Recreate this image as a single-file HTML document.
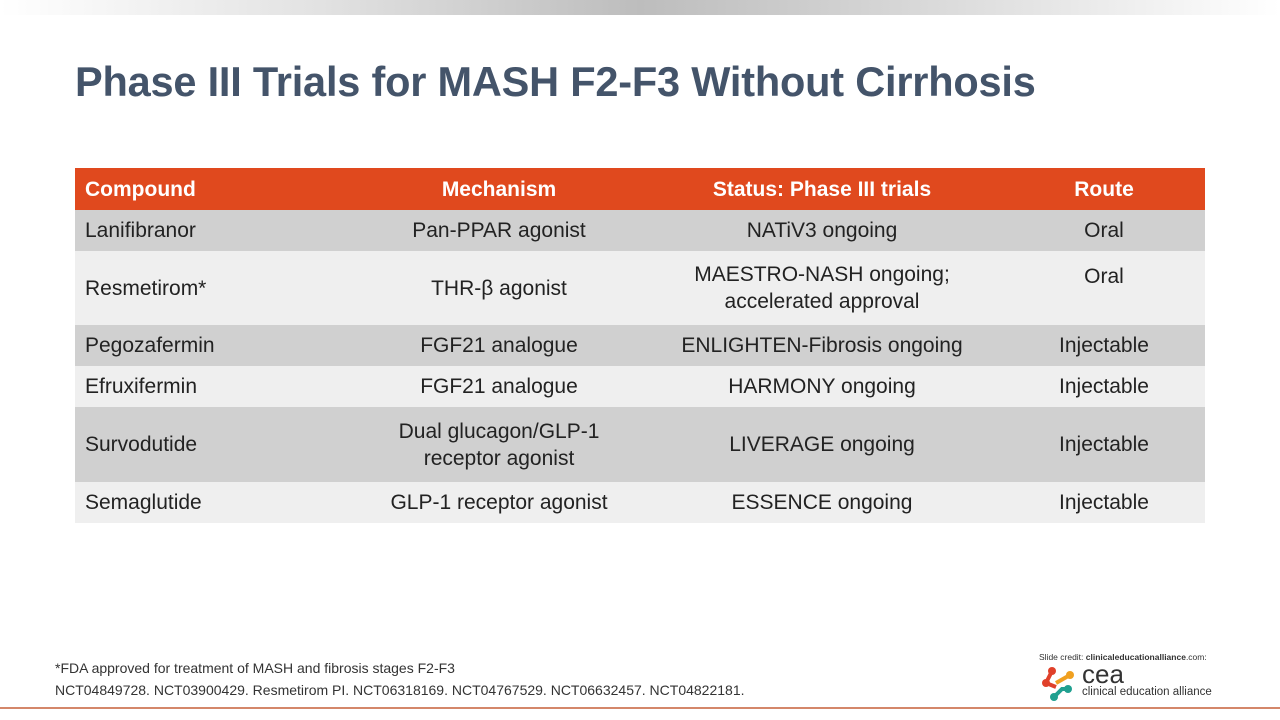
<!DOCTYPE html>
<html><head><style>
body{margin:0;width:1280px;height:720px;background:#fff;position:relative;overflow:hidden;font-family:"Liberation Sans",sans-serif;}
.top{position:absolute;left:0;top:0;width:1280px;height:15px;background:linear-gradient(90deg,#fff 0%,#e2e2e2 25%,#bdbdbd 50%,#d6d6d6 70%,#f8f8f8 95%,#fff 100%);}
h1{position:absolute;left:75px;top:58px;margin:0;font-size:41.5px;font-weight:bold;color:#44546a;letter-spacing:-0.2px;}
table{position:absolute;left:75px;top:168px;width:1130px;border-collapse:collapse;table-layout:fixed;font-size:21px;color:#222;}
td,th{padding:0 6px;text-align:center;line-height:27px;box-sizing:border-box;}
th{background:#e0491e;color:#fff;height:42px;font-weight:bold;}
th:first-child,td:first-child{text-align:left;padding-left:10px;}
tr.g td{background:#d0d0d0;}
tr.l td{background:#efefef;}
.foot{position:absolute;left:55px;top:657px;font-size:14px;color:#333;line-height:22px;}
.credit{position:absolute;left:1039px;top:652px;font-size:8.5px;color:#333;}
.line{position:absolute;left:0;top:707px;width:1280px;height:2px;background:#d4876a;}
.logo{position:absolute;left:1042px;top:665px;}
</style></head><body>
<div class="top"></div>
<h1>Phase III Trials for MASH F2-F3 Without Cirrhosis</h1>
<table>
<colgroup><col style="width:282px"><col style="width:284px"><col style="width:362px"><col style="width:202px"></colgroup>
<tr><th>Compound</th><th>Mechanism</th><th>Status: Phase III trials</th><th>Route</th></tr>
<tr class="g"><td style="height:41px">Lanifibranor</td><td>Pan-PPAR agonist</td><td>NATiV3 ongoing</td><td>Oral</td></tr>
<tr class="l"><td style="height:74px">Resmetirom*</td><td>THR-β agonist</td><td>MAESTRO-NASH ongoing;<br>accelerated approval</td><td style="vertical-align:top;padding-top:12px">Oral</td></tr>
<tr class="g"><td style="height:41px">Pegozafermin</td><td>FGF21 analogue</td><td>ENLIGHTEN-Fibrosis ongoing</td><td>Injectable</td></tr>
<tr class="l"><td style="height:41px">Efruxifermin</td><td>FGF21 analogue</td><td>HARMONY ongoing</td><td>Injectable</td></tr>
<tr class="g"><td style="height:75px">Survodutide</td><td>Dual glucagon/GLP-1<br>receptor agonist</td><td>LIVERAGE ongoing</td><td>Injectable</td></tr>
<tr class="l"><td style="height:41px">Semaglutide</td><td>GLP-1 receptor agonist</td><td>ESSENCE ongoing</td><td>Injectable</td></tr>
</table>
<div class="foot">*FDA approved for treatment of MASH and fibrosis stages F2-F3<br>NCT04849728. NCT03900429. Resmetirom PI. NCT06318169. NCT04767529. NCT06632457. NCT04822181.</div>
<div class="credit">Slide credit: <b>clinicaleducationalliance</b>.com:</div>
<div class="logo">
<svg width="40" height="38" viewBox="0 0 40 38">
<circle cx="10" cy="6" r="4" fill="#e0402a"/><circle cx="4" cy="18" r="4" fill="#e0402a"/><path d="M10 6 L4 18 L14 22" stroke="#e0402a" stroke-width="4" fill="none"/>
<circle cx="28" cy="10" r="4" fill="#f0a020"/><path d="M14 18 L28 10" stroke="#f0a020" stroke-width="4"/>
<circle cx="12" cy="32" r="4" fill="#20a090"/><circle cx="26" cy="24" r="4" fill="#20a090"/><path d="M12 32 L20 24 L26 24" stroke="#20a090" stroke-width="4" fill="none"/>
</svg>
<span style="position:absolute;left:40px;top:-6px;font-size:26px;color:#333;">cea</span>
<span style="position:absolute;left:40px;top:21px;font-size:11.5px;color:#333;white-space:nowrap;">clinical education alliance</span>
</div>
<div class="line"></div>
</body></html>
